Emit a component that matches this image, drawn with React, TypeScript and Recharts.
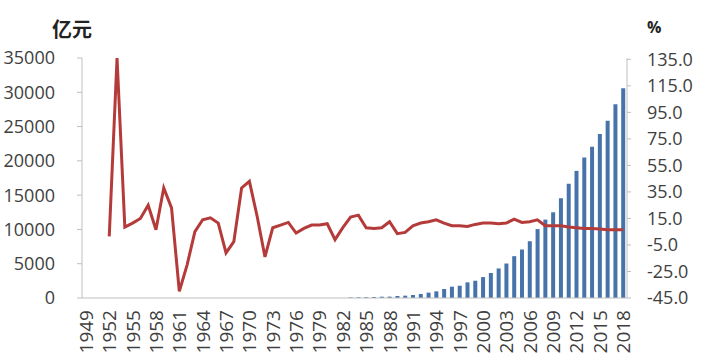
import React from 'react';
import { ComposedChart, Bar, Line, XAxis, YAxis } from 'recharts';

const years = [
  '1949', '1950', '1951', '1952', '1953', '1954', '1955', '1956', '1957', '1958',
  '1959', '1960', '1961', '1962', '1963', '1964', '1965', '1966', '1967', '1968',
  '1969', '1970', '1971', '1972', '1973', '1974', '1975', '1976', '1977', '1978',
  '1979', '1980', '1981', '1982', '1983', '1984', '1985', '1986', '1987', '1988',
  '1989', '1990', '1991', '1992', '1993', '1994', '1995', '1996', '1997', '1998',
  '1999', '2000', '2001', '2002', '2003', '2004', '2005', '2006', '2007', '2008',
  '2009', '2010', '2011', '2012', '2013', '2014', '2015', '2016', '2017', '2018',
];

// 亿元, bars start in 1983
const amount: (number | null)[] = [
  null, null, null, null, null, null, null, null, null, null,
  null, null, null, null, null, null, null, null, null, null,
  null, null, null, null, null, null, null, null, null, null,
  null, null, null, null, 80, 100, 120, 150, 190, 200,
  290, 340, 440, 580, 780, 970, 1310, 1650, 1790, 2280,
  2520, 3050, 3650, 4310, 5030, 6100, 7070, 8280, 10050, 11430,
  12500, 14550, 16660, 18540, 20480, 22070, 23920, 25850, 28270, 30600,
];

// %, line starts in 1952
const growth: (number | null)[] = [
  null, null, null, 1.5, 136, 8.5, 11.5, 15, 25, 6.5,
  38, 23, -40, -20, 5, 14, 15.5, 11.5, -11, -2.5,
  38, 43, 16.5, -14, 8, 10, 12, 4, 7.5, 10,
  10, 11, -1, 8, 16, 17.5, 8, 7.5, 8, 12.5,
  3.5, 4.5, 9.5, 11.5, 12.5, 14, 11.5, 9.5, 9.5, 9,
  10.5, 11.5, 11.5, 11, 11.5, 14.5, 12, 12.5, 14, 9.5,
  9.5, 9.5, 8.5, 8, 7.5, 7.5, 7, 6.5, 6.5, 6.5,
];

const leftTicks = [0, 5000, 10000, 15000, 20000, 25000, 30000, 35000];
const rightTicks = [-45, -25, -5, 15, 35, 55, 75, 95, 115, 135];

const data = years.map((year, i) => ({ year, amount: amount[i], growth: growth[i] }));

const font = '"Open Sans", "Noto Sans", sans-serif';
const tickStyle = { fontSize: 18, fill: '#404040', fontFamily: font };

const YearTick = ({ x, y, payload }: any) => (
  <text
    x={x}
    y={y}
    transform={`rotate(-90, ${x}, ${y})`}
    textAnchor="end"
    dominantBaseline="central"
    fontSize={19}
    fill="#404040"
    fontFamily={font}
  >
    {payload.value}
  </text>
);

export default function App() {
  return (
    <div style={{ position: 'absolute', left: 0, top: 0, width: 718, height: 363, background: '#fff' }}>
      <div style={{ position: 'absolute', left: 52, top: 14, fontSize: 20, fontWeight: 'bold', fontFamily: '"Noto Sans CJK SC", sans-serif', color: '#222' }}>
        亿元
      </div>
      <div style={{ position: 'absolute', left: 647, top: 16, fontSize: 16, fontWeight: 'bold', fontFamily: font, color: '#222' }}>
        %
      </div>
      <ComposedChart width={718} height={363} data={data} margin={{ top: 58, right: 0, left: 0, bottom: 0 }}>
        <XAxis
          dataKey="year"
          interval={2}
          height={65}
          tickLine={false}
          axisLine={{ stroke: '#bfbfbf' }}
          tick={<YearTick />}
          tickMargin={6}
        />
        <YAxis
          yAxisId="left"
          width={82}
          domain={[0, 35000]}
          ticks={leftTicks}
          tick={tickStyle}
          tickLine={{ stroke: '#bfbfbf' }}
          axisLine={{ stroke: '#bfbfbf' }}
          tickSize={5}
          tickMargin={22}
        />
        <YAxis
          yAxisId="right"
          orientation="right"
          width={91}
          domain={[-45, 135]}
          ticks={rightTicks}
          tickFormatter={(v: number) => v.toFixed(1)}
          tick={{ ...tickStyle, textAnchor: 'start' }}
          tickLine={{ stroke: '#bfbfbf' }}
          axisLine={{ stroke: '#bfbfbf' }}
          tickSize={4}
          tickMargin={16}
        />
        <Bar yAxisId="left" dataKey="amount" fill="#4673aa" barSize={4} isAnimationActive={false} />
        <Line
          yAxisId="right"
          dataKey="growth"
          type="linear"
          stroke="#b53b3b"
          strokeWidth={3}
          dot={false}
          connectNulls={false}
          isAnimationActive={false}
        />
      </ComposedChart>
    </div>
  );
}
